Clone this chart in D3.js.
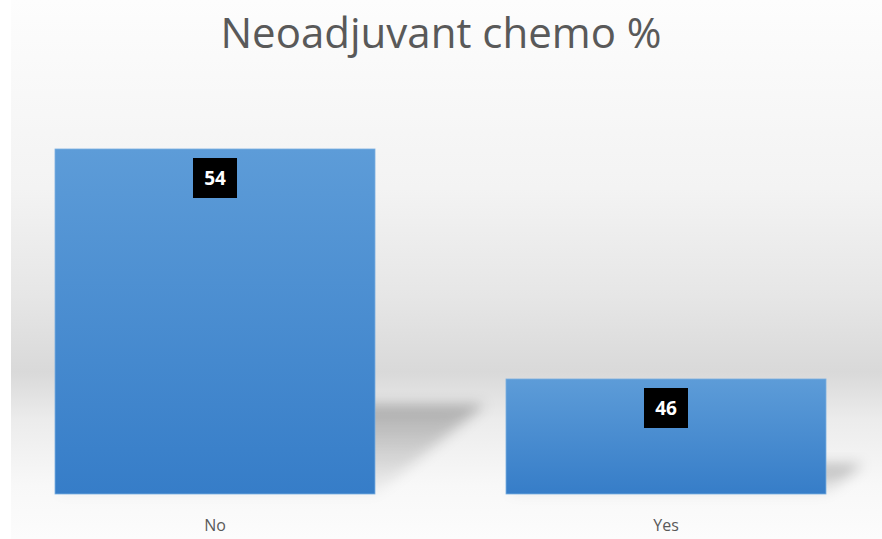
<!DOCTYPE html>
<html>
<head>
<meta charset="utf-8">
<script src="https://cdn.jsdelivr.net/npm/d3@7"></script>
<style>
  html, body { margin: 0; padding: 0; background: #ffffff; }
  svg { display: block; }
</style>
</head>
<body>
<svg id="chart" width="882" height="539"></svg>
<script>
const categories = ["No", "Yes"];
const values = [54, 46];
const yDomain = [42, 56];
const title = "Neoadjuvant chemo %";

const W = 882, H = 539;
const svg = d3.select("#chart");
const defs = svg.append("defs");

// background gradient
const bg = defs.append("linearGradient").attr("id", "bgGrad")
  .attr("x1", 0).attr("y1", 0).attr("x2", 0).attr("y2", 1);
[[0, "#fdfdfd"], [0.35, "#f3f3f3"], [0.55, "#e6e6e6"], [0.69, "#d9d9d9"], [0.78, "#ececec"], [0.9, "#f8f8f8"], [1, "#fcfcfc"]]
  .forEach(([o, c]) => bg.append("stop").attr("offset", o).attr("stop-color", c));

const barGrad = defs.append("linearGradient").attr("id", "barGrad")
  .attr("x1", 0).attr("y1", 0).attr("x2", 0).attr("y2", 1);
barGrad.append("stop").attr("offset", 0).attr("stop-color", "#5d9cd8");
barGrad.append("stop").attr("offset", 1).attr("stop-color", "#367dc8");

const shGrad = defs.append("linearGradient").attr("id", "shGrad")
  .attr("x1", 0).attr("y1", 0).attr("x2", 0).attr("y2", 1);
shGrad.append("stop").attr("offset", 0).attr("stop-color", "#000").attr("stop-opacity", 0.26);
shGrad.append("stop").attr("offset", 1).attr("stop-color", "#000").attr("stop-opacity", 0.03);

defs.append("filter").attr("id", "blur").attr("x", "-30%").attr("y", "-40%").attr("width", "160%").attr("height", "180%")
  .append("feGaussianBlur").attr("stdDeviation", 6.5);

svg.append("rect").attr("x", 11).attr("y", 0).attr("width", W - 11).attr("height", H)
  .attr("fill", "url(#bgGrad)");

const plot = { left: 11, right: 870, top: 91.5, bottom: 494 };

const x = d3.scaleBand().domain(categories)
  .range([plot.left, plot.right])
  .paddingInner(0.2905).paddingOuter(0.0976);
const y = d3.scaleLinear().domain(yDomain).range([plot.bottom, plot.top]);

const data = categories.map((c, i) => ({ cat: c, val: values[i] }));

// perspective shadows
svg.append("g").selectAll("path").data(data).join("path")
  .attr("d", d => {
    const x0 = x(d.cat), x1 = x0 + x.bandwidth();
    const b = y(yDomain[0]);
    const h = b - y(d.val);
    const hs = h * 0.26, dx = h * 0.32;
    return `M${x0},${b} L${x1},${b} L${x1 + dx},${b - hs} L${x0 + dx},${b - hs} Z`;
  })
  .attr("fill", "url(#shGrad)")
  .attr("filter", "url(#blur)");

// bars
svg.append("g").selectAll("rect").data(data).join("rect")
  .attr("x", d => x(d.cat))
  .attr("y", d => y(d.val))
  .attr("width", x.bandwidth())
  .attr("height", d => y(yDomain[0]) - y(d.val))
  .attr("fill", "url(#barGrad)")
  .attr("stroke", "#79aee0")
  .attr("stroke-width", 0.8);

// data labels
const lab = svg.append("g").selectAll("g").data(data).join("g")
  .attr("transform", d => `translate(${x(d.cat) + x.bandwidth() / 2},${y(d.val) + 9})`);
lab.append("rect").attr("x", -22).attr("y", 0).attr("width", 44).attr("height", 40).attr("fill", "#000");
lab.append("text").attr("x", 0).attr("y", 27)
  .attr("text-anchor", "middle")
  .attr("font-family", "Open Sans, Noto Sans, sans-serif")
  .attr("font-weight", "bold").attr("font-size", 19)
  .attr("fill", "#fff")
  .text(d => d.val);

// x axis labels
const xAxis = d3.axisBottom(x).tickSize(0).tickPadding(0);
const gx = svg.append("g").attr("transform", `translate(0,${plot.bottom + 26})`).call(xAxis);
gx.select(".domain").remove();
gx.selectAll("text")
  .attr("font-family", "Open Sans, Noto Sans, sans-serif")
  .attr("font-size", 16)
  .attr("fill", "#595959");

// title
svg.append("text").attr("x", W / 2).attr("y", 48)
  .attr("text-anchor", "middle")
  .attr("font-family", "Open Sans, Noto Sans, sans-serif")
  .attr("font-size", 42)
  .attr("fill", "#595959")
  .text(title);
</script>
</body>
</html>
